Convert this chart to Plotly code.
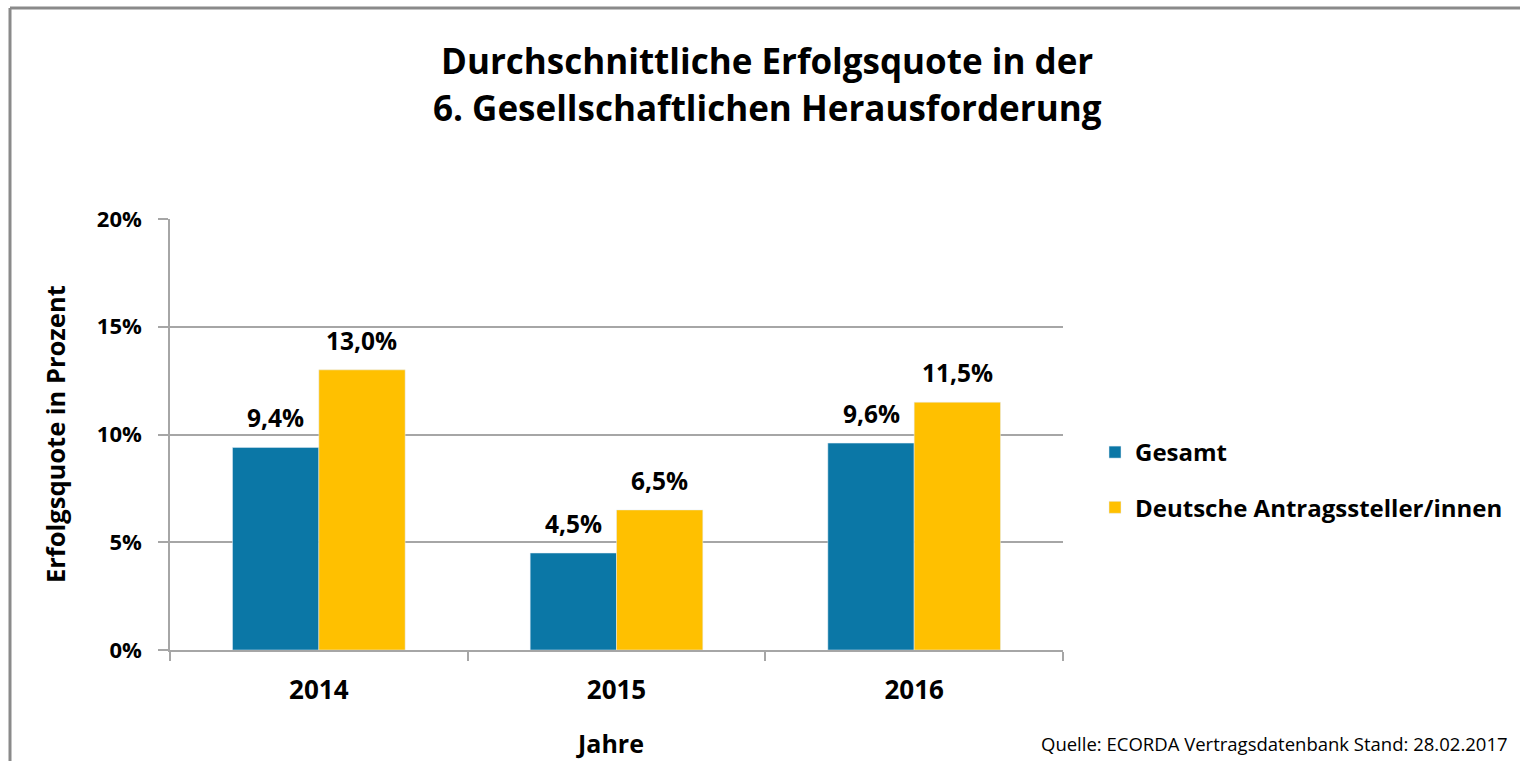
import plotly.graph_objects as go

years = ["2014", "2015", "2016"]
gesamt = [9.4, 4.5, 9.6]
deutsche = [13.0, 6.5, 11.5]
series_names = ["Gesamt", "Deutsche Antragssteller/innen"]
y_ticks = [0, 5, 10, 15, 20]
y_tick_labels = ["0%", "5%", "10%", "15%", "20%"]

W, H = 1520, 761
L, R, T, B = 170, 1063, 219, 650
PW, PH = R - L, B - T

def px(x):
    return (x - L) / PW

def py(y):
    return (B - y) / PH

FONT = "Open Sans"
BLUE = "#0b77a6"
YELLOW = "#ffc000"
GRID = "#a6a6a6"
BARGAP = 0.42

fig = go.Figure()
colors = [BLUE, YELLOW]
data = [gesamt, deutsche]
for i, (name, vals) in enumerate(zip(series_names, data)):
    fig.add_trace(go.Bar(
        x=years, y=vals, name=name, marker_color=colors[i],
        legendgroup=f"g{i}",
    ))

# data labels above each bar (placed via axis scales; category index positions)
cat_w = PW / len(years)
bar_w = cat_w * (1 - BARGAP) / 2
annotations = []
for i, vals in enumerate(data):
    shift = (i - 0.5) * bar_w
    for j, v in enumerate(vals):
        annotations.append(dict(
            x=j, y=v, xref="x", yref="y", xshift=shift, yshift=11,
            text=f"{v:.1f}%".replace(".", ","), showarrow=False,
            xanchor="center", yanchor="bottom",
            font=dict(family=FONT, size=24.5, color="#000000", weight="bold"),
        ))

fig.update_layout(
    width=W, height=H,
    margin=dict(l=L, r=W - R, t=T, b=H - B, pad=0),
    paper_bgcolor="white", plot_bgcolor="white",
    separators=",.",
    barmode="group", bargap=BARGAP, bargroupgap=0,
    font=dict(family=FONT, color="#000000"),
    showlegend=True,
    legend=dict(
        x=px(1095), y=py(480), xanchor="left", yanchor="middle",
        font=dict(family=FONT, size=24, color="#000000", weight="bold"),
        tracegroupgap=21, itemwidth=30, bgcolor="rgba(0,0,0,0)",
    ),
)

fig.update_xaxes(
    type="category", categoryorder="array", categoryarray=years,
    range=[-0.5, len(years) - 0.5],
    showline=True, linecolor=GRID, linewidth=1.5,
    ticks="outside", tickson="boundaries", ticklen=9, tickcolor=GRID, tickwidth=1.5,
    tickfont=dict(family=FONT, size=26, color="#000000", weight="bold"),
    tickangle=0, ticklabelstandoff=16,
    showgrid=False, zeroline=False,
)
fig.update_yaxes(
    range=[0, 20], tickvals=y_ticks, ticktext=y_tick_labels,
    showline=True, linecolor=GRID, linewidth=1.5,
    ticks="outside", ticklen=10, tickcolor=GRID, tickwidth=1.5,
    tickfont=dict(family=FONT, size=22, color="#000000", weight="bold"),
    ticklabelstandoff=12,
    showgrid=True, gridcolor=GRID, gridwidth=1.5, zeroline=False,
)

texts = [
    dict(text="Durchschnittliche Erfolgsquote in der", x=px(767), y=py(60),
         font=dict(size=35, weight="bold")),
    dict(text="6. Gesellschaftlichen Herausforderung", x=px(767), y=py(107),
         font=dict(size=35, weight="bold")),
    dict(text="Erfolgsquote in Prozent", x=px(55), y=py(434), textangle=-90,
         font=dict(size=25.5, weight="bold")),
    dict(text="Jahre", x=px(610), y=py(743), font=dict(size=25, weight="bold")),
    dict(text="Quelle: ECORDA Vertragsdatenbank Stand: 28.02.2017", x=px(1510), y=py(743),
         xanchor="right", font=dict(size=18.5)),
]
for a in texts:
    a.setdefault("xanchor", "center")
    a.update(xref="paper", yref="paper", yanchor="middle", showarrow=False)
    a["font"].update(family=FONT, color="#000000")
fig.update_layout(annotations=annotations + texts)

BORDER = "#8a8a8a"
fig.add_shape(type="line", xref="paper", yref="paper",
              x0=px(10), x1=px(10), y0=py(8), y1=py(H + 5),
              line=dict(color=BORDER, width=3))
fig.add_shape(type="line", xref="paper", yref="paper",
              x0=px(10), x1=px(W + 5), y0=py(8), y1=py(8),
              line=dict(color=BORDER, width=3))

fig.write_html(
    "out.html",
    config={"displayModeBar": False},
    post_script="document.body.style.margin='0';document.body.style.padding='0';"
                "document.documentElement.style.overflow='hidden';",
)
